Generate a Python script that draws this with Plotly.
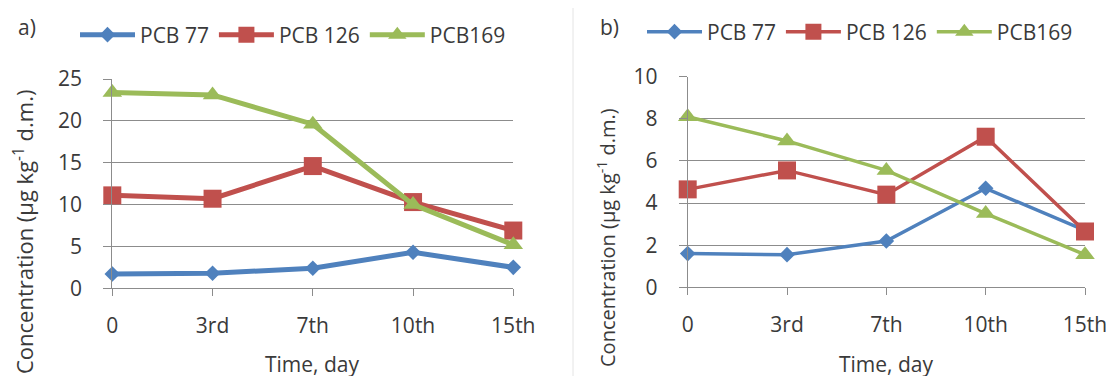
import plotly.graph_objects as go

# ---- data ----
days = ["0", "3rd", "7th", "10th", "15th"]
series_names = ["PCB 77", "PCB 126", "PCB169"]

a_pcb77 = [1.7, 1.8, 2.4, 4.3, 2.5]
a_pcb126 = [11.1, 10.7, 14.6, 10.3, 6.9]
a_pcb169 = [23.4, 23.1, 19.6, 10.0, 5.2]

b_pcb77 = [1.6, 1.55, 2.2, 4.7, 2.7]
b_pcb126 = [4.65, 5.55, 4.4, 7.15, 2.65]
b_pcb169 = [8.1, 6.95, 5.55, 3.5, 1.55]

a_ticks = [0, 5, 10, 15, 20, 25]
b_ticks = [0, 2, 4, 6, 8, 10]

colors = ["#4F81BD", "#C0504D", "#9BBB59"]
symbols = ["diamond", "square", "triangle-up"]
msizes = [12, 18, 17]

# page body has an 8px margin; figure sized to fill the rest of the window
OFF = 8
W, H = 1114 - OFF, 376 - OFF
FONT = "Open Sans"
FS = 21
TXT = "#3A3A3A"
GRID = "#8C8C8C"

fig = go.Figure()
xi = list(range(len(days)))

for k, (vals, name) in enumerate(zip([a_pcb77, a_pcb126, a_pcb169], series_names)):
    fig.add_trace(go.Scatter(
        x=xi, y=vals, name=name, mode="lines+markers",
        line=dict(color=colors[k], width=5),
        marker=dict(symbol=symbols[k], size=msizes[k], color=colors[k]),
        xaxis="x", yaxis="y", legend="legend", cliponaxis=False))

for k, (vals, name) in enumerate(zip([b_pcb77, b_pcb126, b_pcb169], series_names)):
    fig.add_trace(go.Scatter(
        x=xi, y=vals, name=name, mode="lines+markers",
        line=dict(color=colors[k], width=3.5),
        marker=dict(symbol=symbols[k], size=msizes[k], color=colors[k]),
        xaxis="x2", yaxis="y2", legend="legend2", cliponaxis=False))

def px_x(p):
    return (p - OFF) / W

def px_y(p):
    return 1 - (p - OFF) / H

xcommon = dict(range=[0, 4], tickvals=xi, ticktext=days, showgrid=False,
               showline=True, linecolor=GRID, linewidth=1,
               ticks="outside", ticklen=7, tickcolor=GRID,
               tickfont=dict(family=FONT, size=FS, color=TXT),
               ticklabelstandoff=11, zeroline=False, fixedrange=True)
ycommon = dict(showgrid=True, gridcolor=GRID, gridwidth=1,
               showline=True, linecolor=GRID, linewidth=1,
               ticks="outside", ticklen=8, tickcolor=GRID,
               tickfont=dict(family=FONT, size=FS, color=TXT),
               ticklabelstandoff=17, zeroline=False, fixedrange=True)

legcommon = dict(orientation="h", xanchor="left", yanchor="middle",
                 font=dict(family=FONT, size=FS, color=TXT), bgcolor="rgba(0,0,0,0)",
                 itemwidth=55, tracegroupgap=0)

fig.update_layout(
    width=W, height=H,
    margin=dict(l=0, r=0, t=0, b=0, autoexpand=False),
    paper_bgcolor="white", plot_bgcolor="white",
    font=dict(family=FONT, color=TXT),
    xaxis=dict(domain=[px_x(112.3), px_x(513.3)], anchor="y", **xcommon),
    yaxis=dict(domain=[px_y(288.3), px_y(79)], anchor="x", range=[0, 25],
               tickvals=a_ticks, **ycommon),
    xaxis2=dict(domain=[px_x(687.7), px_x(1085)], anchor="y2", **xcommon),
    yaxis2=dict(domain=[px_y(287.3), px_y(76.7)], anchor="x2", range=[0, 10],
                tickvals=b_ticks, **ycommon),
    legend=dict(x=px_x(75), y=px_y(35), **legcommon),
    legend2=dict(x=px_x(642), y=px_y(32), **legcommon),
    showlegend=True,
)

ann = [
    dict(text="a)", x=px_x(16), y=px_y(27), xanchor="left", size=FS),
    dict(text="b)", x=px_x(598), y=px_y(27), xanchor="left", size=FS),
    dict(text="Time, day", x=px_x(312.5), y=px_y(364), xanchor="center", size=FS),
    dict(text="Time, day", x=px_x(886.3), y=px_y(364), xanchor="center", size=FS),
]
for a in ann:
    fig.add_annotation(text=a["text"], x=a["x"], y=a["y"], xref="paper", yref="paper",
                       xanchor=a["xanchor"], yanchor="middle", showarrow=False,
                       font=dict(family=FONT, size=a["size"], color=TXT))

ytitle = "Concentration (µg kg<sup>-1</sup> d.m.)"
for xc, yc, fs in [(23, 232, 22), (606, 238, 20)]:
    fig.add_annotation(text=ytitle, x=px_x(xc), y=px_y(yc), xref="paper", yref="paper",
                       xanchor="center", yanchor="middle", textangle=-90, showarrow=False,
                       font=dict(family=FONT, size=fs, color=TXT))

fig.add_shape(type="line", xref="paper", yref="paper", x0=px_x(573), x1=px_x(573), y0=0, y1=1,
              line=dict(color="#E4E4E4", width=1))

fig.write_html("out.html")
